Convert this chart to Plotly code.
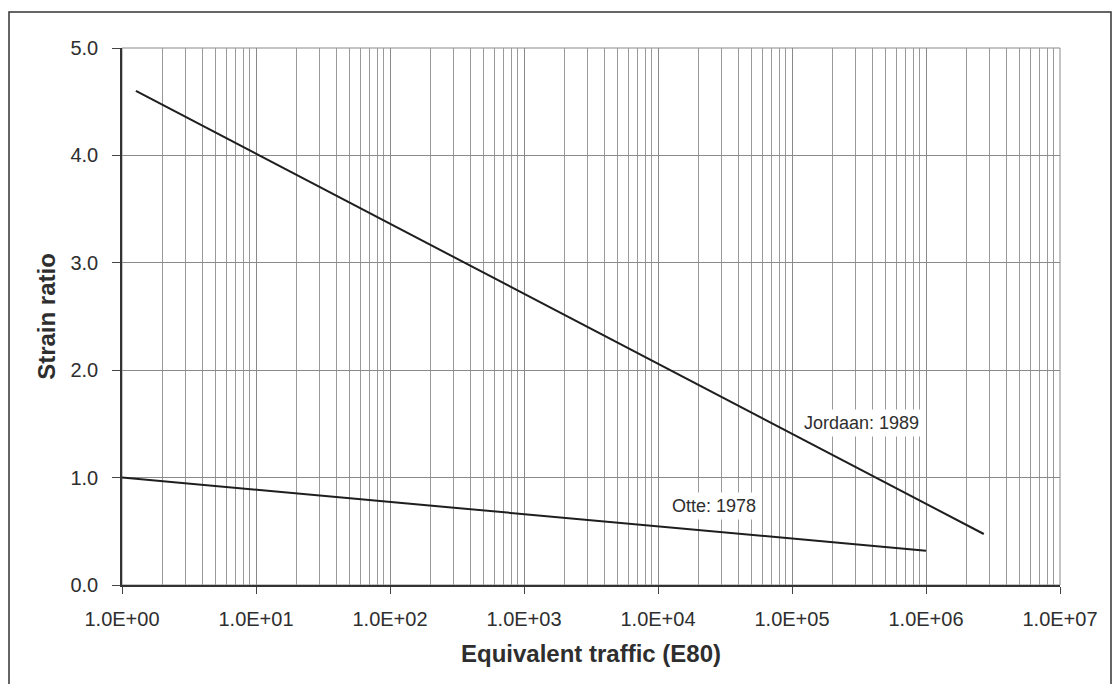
import math
import plotly.graph_objects as go

# Data
jordaan_x = [1.27, 2.7e6]
jordaan_y = [4.60, 0.475]
otte_x = [1.0, 1.0e6]
otte_y = [1.00, 0.32]

x_tick_vals = [1e0, 1e1, 1e2, 1e3, 1e4, 1e5, 1e6, 1e7]
x_tick_text = ["1.0E+00", "1.0E+01", "1.0E+02", "1.0E+03", "1.0E+04", "1.0E+05", "1.0E+06", "1.0E+07"]
y_tick_vals = [0, 1, 2, 3, 4, 5]
y_tick_text = ["0.0", "1.0", "2.0", "3.0", "4.0", "5.0"]

series_labels = ["Jordaan: 1989", "Otte: 1978"]
label_x = [10 ** 5.52, 10 ** 4.42]
label_y = [1.51, 0.735]

minor_vals = [m * 10 ** d for d in range(0, 7) for m in range(2, 10)]

font_family = "Liberation Sans, Arial, sans-serif"
ink = "#2e2e2e"

fig = go.Figure()
fig.add_trace(go.Scatter(x=jordaan_x, y=jordaan_y, mode="lines",
                         line=dict(color="#1e1e1e", width=2), name=series_labels[0],
                         showlegend=False))
fig.add_trace(go.Scatter(x=otte_x, y=otte_y, mode="lines",
                         line=dict(color="#1e1e1e", width=2), name=series_labels[1],
                         showlegend=False))

for t, lx, ly in zip(series_labels, label_x, label_y):
    fig.add_annotation(x=math.log10(lx), y=ly, text=t, showarrow=False,
                       bgcolor="white", borderpad=3,
                       font=dict(family=font_family, size=18, color=ink))

fig.update_xaxes(type="log", range=[0, 7],
                 tickvals=x_tick_vals, ticktext=x_tick_text,
                 tickfont=dict(family=font_family, size=20, color=ink),
                 ticks="outside", ticklen=7, tickcolor="#444", ticklabelstandoff=8,
                 showgrid=True, gridcolor="#8a8a8a", gridwidth=1,
                 minor=dict(tickvals=minor_vals, showgrid=True, gridcolor="#9a9a9a",
                            gridwidth=0.8, ticks=""),
                 showline=True, linecolor="#333", linewidth=1.5,
                 zeroline=False,
                 title=dict(text="<b>Equivalent traffic (E80)</b>",
                            font=dict(family=font_family, size=24, color=ink),
                            standoff=16))
fig.update_yaxes(range=[0, 5], tickvals=y_tick_vals, ticktext=y_tick_text,
                 tickfont=dict(family=font_family, size=20, color=ink),
                 ticks="outside", ticklen=8, tickcolor="#444", ticklabelstandoff=10,
                 showgrid=True, gridcolor="#8a8a8a", gridwidth=1,
                 showline=True, linecolor="#333", linewidth=1.5,
                 zeroline=False,
                 title=dict(text="<b>Strain ratio</b>",
                            font=dict(family=font_family, size=24, color=ink),
                            standoff=8))

# outer frame around the chart (figure edges)
fig.add_shape(type="rect", xref="paper", yref="paper",
              x0=(1 - 114) / 938, x1=(1103 - 114) / 938, y0=-0.3, y1=(577 - 4) / 537,
              line=dict(color="#333", width=1.5), layer="below")
# top/right edge of plot area
fig.add_shape(type="rect", xref="paper", yref="paper", x0=0, x1=1, y0=0, y1=1,
              line=dict(color="#8a8a8a", width=1), layer="below")

fig.update_layout(width=1104, height=676,
                  margin=dict(l=114, r=52, t=40, b=99),
                  plot_bgcolor="white", paper_bgcolor="white",
                  font=dict(family=font_family, color=ink))

fig.write_html("out.html")
